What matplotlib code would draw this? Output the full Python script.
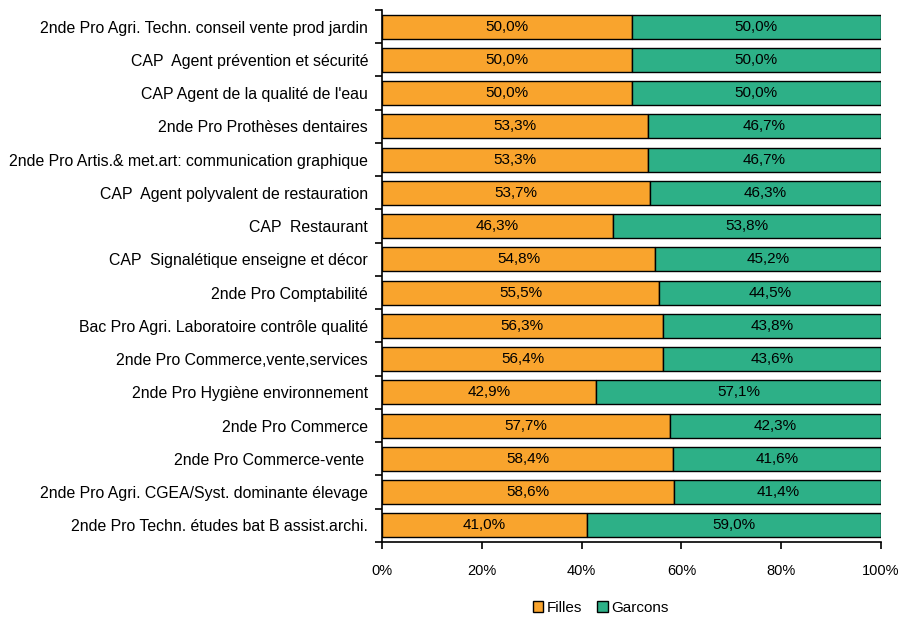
import matplotlib
matplotlib.use("Agg")
import matplotlib.pyplot as plt
import numpy as np

plt.rcParams['font.family'] = ['Liberation Sans', 'DejaVu Sans']

formations = [
    "2nde Pro Agri. Techn. conseil vente prod jardin",
    "CAP  Agent prévention et sécurité",
    "CAP Agent de la qualité de l'eau",
    "2nde Pro Prothèses dentaires",
    "2nde Pro Artis.& met.art: communication graphique",
    "CAP  Agent polyvalent de restauration",
    "CAP  Restaurant",
    "CAP  Signalétique enseigne et décor",
    "2nde Pro Comptabilité",
    "Bac Pro Agri. Laboratoire contrôle qualité",
    "2nde Pro Commerce,vente,services",
    "2nde Pro Hygiène environnement",
    "2nde Pro Commerce",
    "2nde Pro Commerce-vente ",
    "2nde Pro Agri. CGEA/Syst. dominante élevage",
    "2nde Pro Techn. études bat B assist.archi.",
]
filles = [50.0, 50.0, 50.0, 53.3, 53.3, 53.7, 46.3, 54.8, 55.5, 56.3, 56.4, 42.9, 57.7, 58.4, 58.6, 41.0]
garcons = [50.0, 50.0, 50.0, 46.7, 46.7, 46.3, 53.8, 45.2, 44.5, 43.8, 43.6, 57.1, 42.3, 41.6, 41.4, 59.0]

c_filles = "#F9A42D"
c_garcons = "#2DB087"

fig = plt.figure(figsize=(9.03, 6.17), dpi=100)
ax = fig.add_axes([0.423, 0.1216, 0.5527, 0.8622])

y = np.arange(len(formations))
tot = np.array(filles) + np.array(garcons)
f = np.array(filles) / tot * 100
g = np.array(garcons) / tot * 100

b1 = ax.barh(y, f, height=0.72, color=c_filles, edgecolor="black", linewidth=1, label="Filles")
b2 = ax.barh(y, g, left=f, height=0.72, color=c_garcons, edgecolor="black", linewidth=1, label="Garcons")

for i in range(len(y)):
    ax.text(f[i] / 2, y[i], ("%.1f%%" % filles[i]).replace(".", ","), ha="center", va="center", fontsize=11)
    ax.text(f[i] + g[i] / 2, y[i], ("%.1f%%" % garcons[i]).replace(".", ","), ha="center", va="center", fontsize=11)

ax.set_xlim(0, 100)
ax.set_ylim(len(y) - 0.5, -0.5)
ax.set_xticks(np.arange(0, 101, 20))
ax.set_xticklabels(["%d%%" % v for v in range(0, 101, 20)], fontsize=10.5)
ax.set_yticks(y)
ax.set_yticklabels(formations, fontsize=11.4)
ax.set_yticks(np.arange(-0.5, len(y), 1), minor=True)
ax.tick_params(axis="y", which="major", length=0, pad=10)
ax.tick_params(axis="y", which="minor", length=5, width=1.2, direction="out")
ax.tick_params(axis="x", length=5, width=1.2, direction="out", pad=11)
for s in ["top", "right"]:
    ax.spines[s].set_visible(False)
ax.spines["left"].set_linewidth(1.2)
ax.spines["bottom"].set_linewidth(1.2)

fig.legend(handles=[b1, b2], loc="center", bbox_to_anchor=(0.665, 0.015), ncol=2, frameon=False,
           fontsize=11, handlelength=0.7, handleheight=0.7, handletextpad=0.2, columnspacing=1.0)

fig.savefig("out.png", dpi=100)
